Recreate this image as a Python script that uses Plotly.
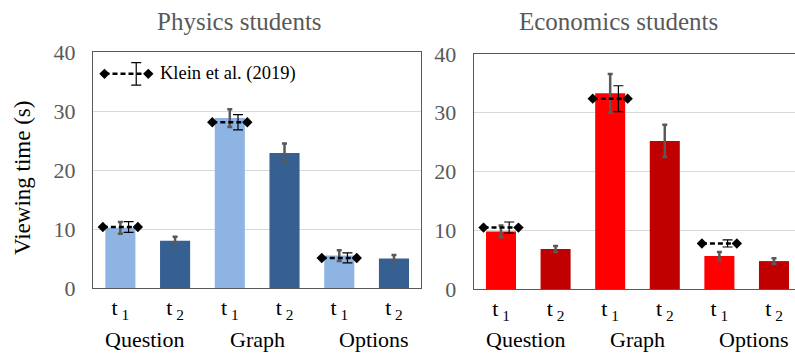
import plotly.graph_objects as go

# ---- data ----
groups = ["Question", "Graph", "Options"]
times = ["t<sub> 1</sub>", "t<sub> 2</sub>"]

phys_t1 = [10.2, 28.8, 5.5]
phys_t1_err = [1.0, 1.5, 0.9]
phys_t2 = [8.0, 22.9, 5.0]
phys_t2_err = [0.7, 1.6, 0.6]
phys_klein = [10.35, 28.1, 5.1]
phys_klein_err = [0.9, 1.3, 0.85]

econ_t1 = [9.8, 33.3, 5.6]
econ_t1_err = [1.0, 3.3, 0.7]
econ_t2 = [6.8, 25.2, 4.75]
econ_t2_err = [0.5, 2.75, 0.5]
econ_klein = [10.45, 32.4, 7.75]
econ_klein_err = [0.95, 2.2, 0.6]

y_ticks = [0, 10, 20, 30, 40]

# ---- style ----
FONT = "Liberation Serif, Times New Roman, serif"
GRAY = "#595959"
phys_colors = ["#8EB4E3", "#366092"]
econ_colors = ["#FF0000", "#C00000"]

n_groups = len(groups)
pos_t1 = [2 * i for i in range(n_groups)]
pos_t2 = [2 * i + 1 for i in range(n_groups)]
tickvals = list(range(2 * n_groups))
ticktext = [times[k % 2] for k in tickvals]

fig = go.Figure()


def add_panel(xa, ya, t1, t1e, t2, t2e, kl, kle, colors):
    fig.add_trace(go.Bar(x=pos_t1, y=t1, width=0.55, marker=dict(color=colors[0], line=dict(width=0)),
                         error_y=dict(type="data", array=t1e, color=GRAY, thickness=2.5, width=2.5),
                         xaxis=xa, yaxis=ya, showlegend=False))
    fig.add_trace(go.Bar(x=pos_t2, y=t2, width=0.55, marker=dict(color=colors[1], line=dict(width=0)),
                         error_y=dict(type="data", array=t2e, color=GRAY, thickness=2.5, width=2.5),
                         xaxis=xa, yaxis=ya, showlegend=False))
    # Klein et al. reference: dashed line with diamonds over each t1 bar
    lx, ly = [], []
    for p, v in zip(pos_t1, kl):
        lx += [p - 0.32, p + 0.32, None]
        ly += [v, v, None]
    fig.add_trace(go.Scatter(x=lx, y=ly, mode="lines+markers",
                             line=dict(color="black", width=2.5, dash="5px,3px"),
                             marker=dict(symbol="diamond", size=8, color="black"),
                             xaxis=xa, yaxis=ya, showlegend=False, hoverinfo="skip"))
    fig.add_trace(go.Scatter(x=[p + 0.15 for p in pos_t1], y=kl, mode="markers",
                             marker=dict(size=1, color="rgba(0,0,0,0)"),
                             error_y=dict(type="data", array=kle, color="black", thickness=1.2, width=5),
                             xaxis=xa, yaxis=ya, showlegend=False, hoverinfo="skip"))


add_panel("x", "y", phys_t1, phys_t1_err, phys_t2, phys_t2_err, phys_klein, phys_klein_err, phys_colors)
add_panel("x2", "y2", econ_t1, econ_t1_err, econ_t2, econ_t2_err, econ_klein, econ_klein_err, econ_colors)

# legend glyph (manual)
leg_y = 36.3
fig.add_trace(go.Scatter(x=[-0.29, 0.51], y=[leg_y, leg_y], mode="lines+markers",
                         line=dict(color="black", width=2.5, dash="5px,3px"),
                         marker=dict(symbol="diamond", size=8, color="black"),
                         xaxis="x", yaxis="y", showlegend=False, hoverinfo="skip"))
fig.add_trace(go.Scatter(x=[0.29], y=[leg_y], mode="markers",
                         marker=dict(size=1, color="rgba(0,0,0,0)"),
                         error_y=dict(type="data", array=[1.9], color="black", thickness=1.2, width=5),
                         xaxis="x", yaxis="y", showlegend=False, hoverinfo="skip"))

xcommon = dict(tickvals=tickvals, ticktext=ticktext, showgrid=False, zeroline=False,
               showline=True, linecolor=GRAY, linewidth=1, ticks="", ticklabelstandoff=0,
               tickfont=dict(family=FONT, size=22, color="black"), fixedrange=True)
ycommon = dict(range=[0, 40], tickvals=y_ticks, showgrid=True, gridcolor="#D9D9D9", gridwidth=1,
               zeroline=False, showline=True, linecolor=GRAY, linewidth=1, ticks="",
               tickfont=dict(family=FONT, size=22, color=GRAY), ticklabelstandoff=12)

fig.update_layout(
    width=795, height=354,
    font=dict(family=FONT),
    margin=dict(l=93, r=0, t=52, b=65),
    plot_bgcolor="white", paper_bgcolor="white",
    barmode="overlay",
    xaxis=dict(domain=[0, 0.4677], range=[-0.5, 5.5], mirror=True, **xcommon),
    yaxis=dict(domain=[0.004, 1], mirror=True, **ycommon),
    xaxis2=dict(domain=[0.5423, 1], range=[-0.5, 5.385], mirror=True, anchor="y2", **xcommon),
    yaxis2=dict(domain=[0, 0.9915], anchor="x2", **ycommon),
)

annotations = [
    dict(text="Physics students", x=0.2094, y=1.13, xref="paper", yref="paper",
         showarrow=False, font=dict(family=FONT, size=25, color=GRAY), xanchor="center", yanchor="middle"),
    dict(text="Economics students", x=0.7486, y=1.13, xref="paper", yref="paper",
         showarrow=False, font=dict(family=FONT, size=25, color=GRAY), xanchor="center", yanchor="middle"),
    dict(text="Viewing time (s)", x=-0.1005, y=0.47, xref="paper", yref="paper", textangle=-90,
         showarrow=False, font=dict(family=FONT, size=23, color="black"), xanchor="center", yanchor="middle"),
    dict(text="Klein et al. (2019)", x=0.68, y=leg_y, xref="x", yref="y", xanchor="left", yanchor="middle",
         showarrow=False, font=dict(family=FONT, size=18.5, color="black")),
]
shifts = [-3, 0, 7]
for xa in ["x", "x2"]:
    for i, g in enumerate(groups):
        annotations.append(dict(text=g, x=(pos_t1[i] + pos_t2[i]) / 2, y=0, xref=xa, yref="paper",
                                yanchor="middle", xanchor="center", yshift=-50, xshift=shifts[i],
                                showarrow=False, font=dict(family=FONT, size=22, color="black")))
fig.update_layout(annotations=annotations)

fig.write_html("out.html")
